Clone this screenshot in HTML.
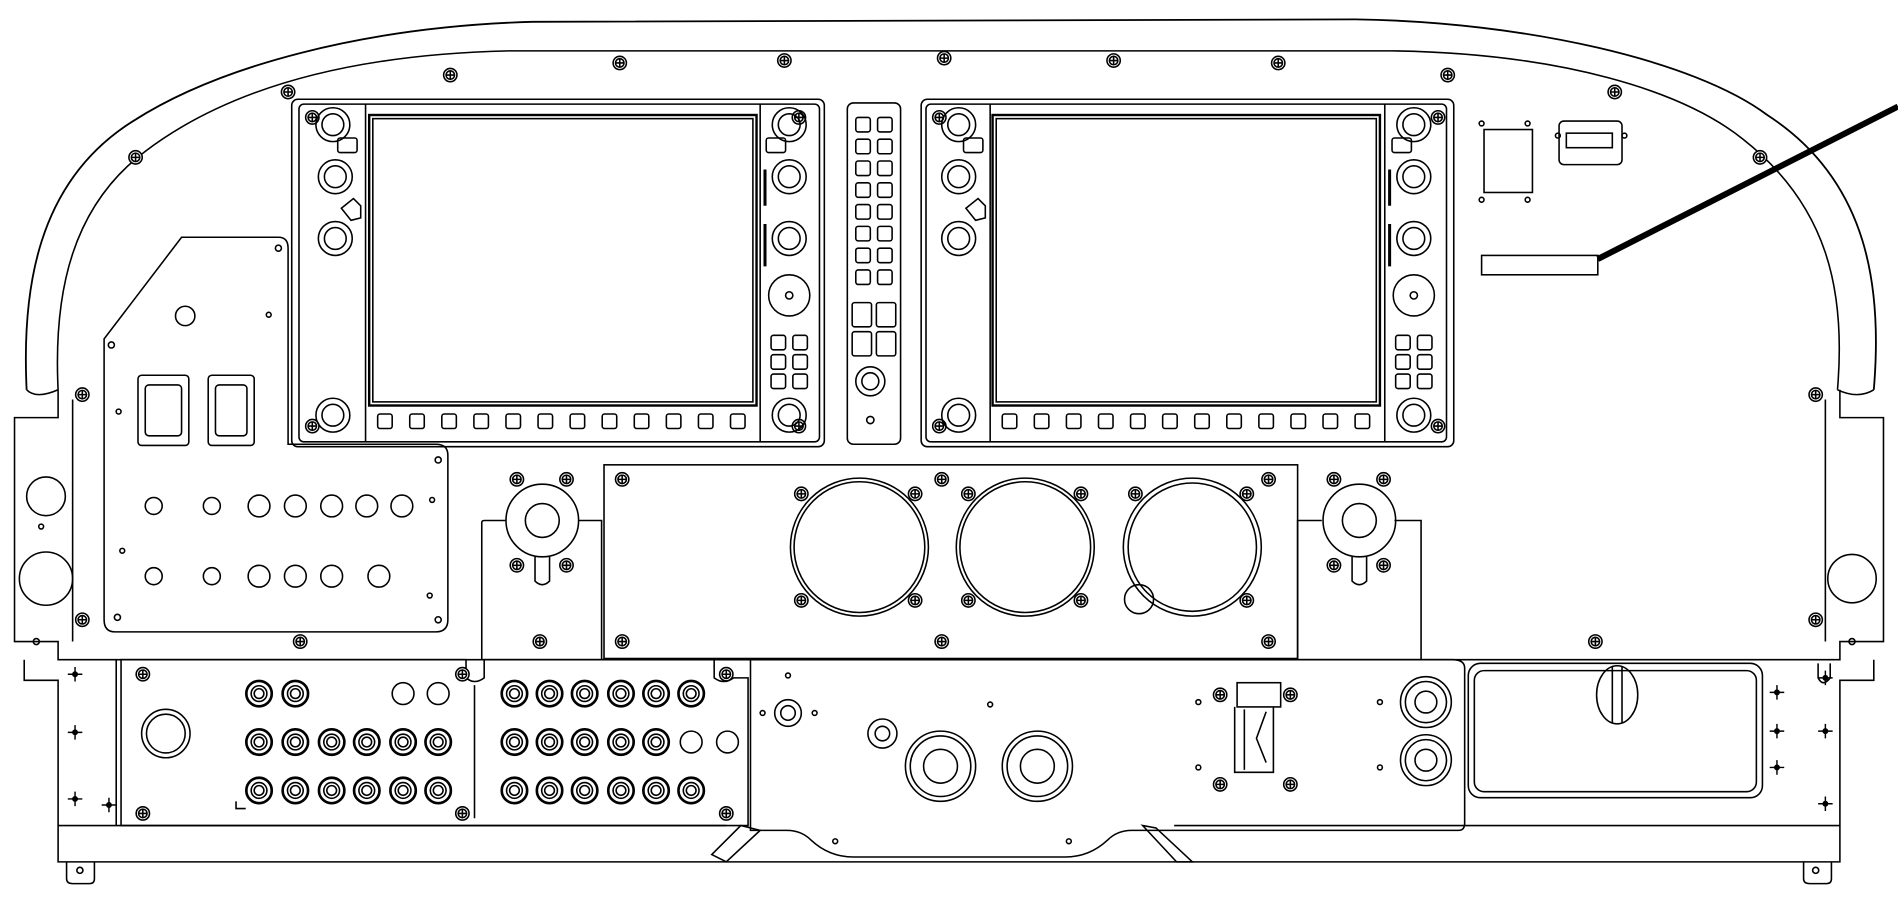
<!DOCTYPE html>
<html><head><meta charset="utf-8"><style>html,body{margin:0;padding:0;background:#fff}svg{display:block}</style></head>
<body>
<svg width="1898" height="900" viewBox="0 0 1568 743.5" xmlns="http://www.w3.org/2000/svg" fill="none" stroke="#000" stroke-width="1.3">
<defs>
<g id="sc"><circle r="5.5" fill="#fff"/><circle r="3.5"/><path d="M-3.5 0H3.5M0-3.5V3.5"/></g>
<g id="pl"><path d="M-6 0H6M0-6V6" stroke-width="1.2"/><circle r="1.8" fill="#000"/></g>
<g id="kn"><circle r="10.5" stroke-width="2.2"/><circle r="6.5"/><circle r="4"/></g>
<g id="bt"><rect x="-6" y="-6" width="12" height="12" rx="2"/></g>
<g id="dk"><circle r="14"/><circle r="9"/></g>
</defs>

<!-- glareshield -->
<path d="M22 322 C18 240 30 150 110 100 C180 55 300 22 440 18 L1120 16 C1260 18 1400 50 1460 95 C1545 150 1555 240 1548 322" stroke-width="1.5"/>
<path d="M48 322 C44 240 60 170 120 125 C190 72 290 45 420 42 L1150 42 C1290 44 1390 75 1440 115 C1510 170 1525 240 1518 322"/>
<path d="M22 322 Q30 330 48 322 M1518 322 Q1535 330 1548 322"/>

<!-- main panel outline -->
<path d="M48 322 L48 345 L12 345 L12 530 L48 530 L48 545 L1520 545 L1520 530 L1556 530 L1556 345 L1520 345 L1520 322"/>
<path d="M60 330 V530 M1508 330 V530"/>
<circle cx="38" cy="410" r="16"/><circle cx="38" cy="478" r="22"/>
<circle cx="1530" cy="478" r="20"/>
<circle cx="34" cy="435" r="2"/><circle cx="30" cy="530" r="2.5"/><circle cx="1530" cy="530" r="2.5"/>

<!-- screws top -->
<use href="#sc" x="372" y="62"/><use href="#sc" x="512" y="52"/><use href="#sc" x="648" y="50"/><use href="#sc" x="780" y="48"/><use href="#sc" x="920" y="50"/><use href="#sc" x="1056" y="52"/><use href="#sc" x="1196" y="62"/>
<use href="#sc" x="238" y="76"/><use href="#sc" x="1334" y="76"/><use href="#sc" x="112" y="130"/><use href="#sc" x="1454" y="130"/>
<use href="#sc" x="68" y="326"/><use href="#sc" x="1500" y="326"/><use href="#sc" x="68" y="512"/><use href="#sc" x="1500" y="512"/>
<use href="#sc" x="248" y="530"/><use href="#sc" x="446" y="530"/><use href="#sc" x="1318" y="530"/>

<!-- left subpanel -->
<path d="M150 196 L230 196 Q238 196 238 205 L238 367 L360 367 Q370 367 370 376 L370 512 Q370 522 360 522 L95 522 Q86 522 86 512 L86 280 L150 196 Z"/>
<circle cx="153" cy="261" r="8"/><circle cx="222" cy="260" r="2"/><circle cx="230" cy="205" r="2.5"/><circle cx="92" cy="285" r="2.5"/><circle cx="98" cy="340" r="2"/>
<rect x="114" y="310" width="42" height="58" rx="3"/><rect x="120" y="318" width="30" height="42" rx="3"/>
<rect x="172" y="310" width="38" height="58" rx="3"/><rect x="178" y="318" width="26" height="42" rx="3"/>
<circle cx="127" cy="418" r="7"/><circle cx="175" cy="418" r="7"/><circle cx="214" cy="418" r="9"/><circle cx="244" cy="418" r="9"/><circle cx="274" cy="418" r="9"/><circle cx="303" cy="418" r="9"/><circle cx="332" cy="418" r="9"/>
<circle cx="127" cy="476" r="7"/><circle cx="175" cy="476" r="7"/><circle cx="214" cy="476" r="9"/><circle cx="244" cy="476" r="9"/><circle cx="274" cy="476" r="9"/><circle cx="313" cy="476" r="9"/>
<circle cx="357" cy="413" r="2"/><circle cx="355" cy="492" r="2"/><circle cx="101" cy="455" r="2"/><circle cx="97" cy="510" r="2.5"/><circle cx="362" cy="380" r="2.5"/><circle cx="362" cy="512" r="2.5"/>

<!-- left display -->
<rect x="241" y="82" width="440" height="287" rx="5"/>
<rect x="247" y="86" width="430" height="279" rx="4"/>
<path d="M302 86 V365 M628 86 V365"/>
<rect x="305" y="95" width="320" height="240" stroke-width="2"/><rect x="308" y="98" width="314" height="234"/>
<use href="#sc" x="258" y="97"/><use href="#sc" x="660" y="97"/><use href="#sc" x="258" y="352"/><use href="#sc" x="660" y="352"/>
<use href="#dk" x="275" y="103"/><use href="#dk" x="652" y="103"/><use href="#dk" x="277" y="146"/><use href="#dk" x="277" y="197"/><use href="#dk" x="652" y="146"/><use href="#dk" x="652" y="197"/><use href="#dk" x="275" y="343"/><use href="#dk" x="652" y="343"/>
<circle cx="652" cy="244" r="17"/><circle cx="652" cy="244" r="3"/>
<rect x="279" y="114" width="16" height="12" rx="2"/><rect x="633" y="114" width="16" height="12" rx="2"/>
<path d="M282 172 L292 164 L298 170 L298 180 L290 182 Z"/>
<path d="M632 140 V170 M632 185 V220" stroke-width="2.5"/>
<g transform="translate(643,283)"><use href="#bt"/><use href="#bt" x="18"/><use href="#bt" y="16"/><use href="#bt" x="18" y="16"/><use href="#bt" y="32"/><use href="#bt" x="18" y="32"/></g>
<g transform="translate(318,348)"><use href="#bt"/><use href="#bt" x="26.5"/><use href="#bt" x="53"/><use href="#bt" x="79.5"/><use href="#bt" x="106"/><use href="#bt" x="132.5"/><use href="#bt" x="159"/><use href="#bt" x="185.5"/><use href="#bt" x="212"/><use href="#bt" x="238.5"/><use href="#bt" x="265"/><use href="#bt" x="291.5"/></g>

<!-- center strip -->
<rect x="700" y="85" width="44" height="282" rx="5"/>
<g transform="translate(713,103)"><use href="#bt"/><use href="#bt" x="18"/><use href="#bt" y="18"/><use href="#bt" x="18" y="18"/><use href="#bt" y="36"/><use href="#bt" x="18" y="36"/><use href="#bt" y="54"/><use href="#bt" x="18" y="54"/><use href="#bt" y="72"/><use href="#bt" x="18" y="72"/><use href="#bt" y="90"/><use href="#bt" x="18" y="90"/><use href="#bt" y="108"/><use href="#bt" x="18" y="108"/><use href="#bt" y="126"/><use href="#bt" x="18" y="126"/></g>
<rect x="704" y="250" width="16" height="20" rx="2"/><rect x="724" y="250" width="16" height="20" rx="2"/><rect x="704" y="274" width="16" height="20" rx="2"/><rect x="724" y="274" width="16" height="20" rx="2"/>
<circle cx="719" cy="315" r="12"/><circle cx="719" cy="315" r="7"/><circle cx="719" cy="347" r="3"/>

<!-- right display -->
<rect x="765" y="82" width="440" height="287" rx="5" transform="translate(-4,0)"/>
<rect x="765" y="86" width="430" height="279" rx="4"/>
<path d="M818 86 V365 M1144 86 V365"/>
<rect x="820" y="95" width="320" height="240" stroke-width="2"/><rect x="823" y="98" width="314" height="234"/>
<use href="#sc" x="776" y="97"/><use href="#sc" x="1188" y="97"/><use href="#sc" x="776" y="352"/><use href="#sc" x="1188" y="352"/>
<use href="#dk" x="792" y="103"/><use href="#dk" x="1168" y="103"/><use href="#dk" x="792" y="146"/><use href="#dk" x="792" y="197"/><use href="#dk" x="1168" y="146"/><use href="#dk" x="1168" y="197"/><use href="#dk" x="792" y="343"/><use href="#dk" x="1168" y="343"/>
<circle cx="1168" cy="244" r="17"/><circle cx="1168" cy="244" r="3"/>
<rect x="796" y="114" width="16" height="12" rx="2"/><rect x="1150" y="114" width="16" height="12" rx="2"/>
<path d="M798 172 L808 164 L814 170 L814 180 L806 182 Z"/>
<path d="M1148 140 V170 M1148 185 V220" stroke-width="2.5"/>
<g transform="translate(1159,283)"><use href="#bt"/><use href="#bt" x="18"/><use href="#bt" y="16"/><use href="#bt" x="18" y="16"/><use href="#bt" y="32"/><use href="#bt" x="18" y="32"/></g>
<g transform="translate(834,348)"><use href="#bt"/><use href="#bt" x="26.5"/><use href="#bt" x="53"/><use href="#bt" x="79.5"/><use href="#bt" x="106"/><use href="#bt" x="132.5"/><use href="#bt" x="159"/><use href="#bt" x="185.5"/><use href="#bt" x="212"/><use href="#bt" x="238.5"/><use href="#bt" x="265"/><use href="#bt" x="291.5"/></g>

<!-- top right items -->
<rect x="1226" y="107" width="40" height="52"/><rect x="1288" y="100" width="52" height="36" rx="4"/><rect x="1294" y="110" width="38" height="12"/>
<circle cx="1224" cy="102" r="2"/><circle cx="1262" cy="102" r="2"/><circle cx="1224" cy="165" r="2"/><circle cx="1262" cy="165" r="2"/><circle cx="1287" cy="112" r="2"/><circle cx="1342" cy="112" r="2"/>
<rect x="1224" y="211" width="96" height="16"/>
<path d="M1320 214 L1568 88" stroke-width="5"/>

<!-- center instrument panel -->
<path d="M398 545 V432 Q398 430 400 430 H418 M478 430 H497 V545 M1072 545 V430 H1092 M1152 430 H1174 V545"/>
<rect x="499" y="384" width="573" height="160"/>
<use href="#sc" x="514" y="396"/><use href="#sc" x="778" y="396"/><use href="#sc" x="1048" y="396"/><use href="#sc" x="514" y="530"/><use href="#sc" x="778" y="530"/><use href="#sc" x="1048" y="530"/>
<circle cx="710" cy="452" r="57"/><circle cx="710" cy="452" r="54"/>
<circle cx="847" cy="452" r="57"/><circle cx="847" cy="452" r="54"/>
<circle cx="985" cy="452" r="57"/><circle cx="985" cy="452" r="53"/>
<circle cx="941" cy="495" r="12"/>
<use href="#sc" x="662" y="408"/><use href="#sc" x="756" y="408"/><use href="#sc" x="662" y="496"/><use href="#sc" x="756" y="496"/>
<use href="#sc" x="800" y="408"/><use href="#sc" x="893" y="408"/><use href="#sc" x="800" y="496"/><use href="#sc" x="893" y="496"/>
<use href="#sc" x="938" y="408"/><use href="#sc" x="1030" y="408"/><use href="#sc" x="1030" y="496"/>
<!-- side knobs -->
<circle cx="448" cy="430" r="30"/><circle cx="448" cy="430" r="14"/><path d="M442 460 V480 Q448 486 454 480 V460"/>
<use href="#sc" x="427" y="396"/><use href="#sc" x="468" y="396"/><use href="#sc" x="427" y="467"/><use href="#sc" x="468" y="467"/>
<circle cx="1123" cy="430" r="30"/><circle cx="1123" cy="430" r="14"/><path d="M1117 460 V480 Q1123 486 1129 480 V460"/>
<use href="#sc" x="1102" y="396"/><use href="#sc" x="1143" y="396"/><use href="#sc" x="1102" y="467"/><use href="#sc" x="1143" y="467"/>

<!-- lower section -->
<path d="M20 545 V562 H48 V712 H1520 V562 H1548 V545"/>
<path d="M48 682 H600 M970 682 H1520"/>
<path d="M55 712 V726 Q55 730 60 730 H74 Q78 730 78 726 V712 M1490 712 V726 Q1490 730 1495 730 H1509 Q1513 730 1513 726 V712"/>
<circle cx="66" cy="719" r="2.5"/><circle cx="1500" cy="719" r="2.5"/>
<path d="M96 545 V682"/>
<use href="#pl" x="62" y="557"/><use href="#pl" x="62" y="605"/><use href="#pl" x="62" y="660"/><use href="#pl" x="90" y="665"/>
<use href="#pl" x="1468" y="572"/><use href="#pl" x="1468" y="604"/><use href="#pl" x="1468" y="634"/><use href="#pl" x="1508" y="560"/><use href="#pl" x="1508" y="604"/><use href="#pl" x="1508" y="664"/>
<!-- left switch panel -->
<path d="M100 545 H385 V560 Q392 566 400 560 V545 H590 V560 Q598 566 606 560 H618 V682 H100 Z"/>
<path d="M392 566 V676"/>
<circle cx="137" cy="606" r="20"/><circle cx="137" cy="606" r="16"/>
<g>
<use href="#kn" x="214" y="573"/><use href="#kn" x="244" y="573"/><circle cx="333" cy="573" r="9"/><circle cx="362" cy="573" r="9"/>
<use href="#kn" x="425" y="573"/><use href="#kn" x="454" y="573"/><use href="#kn" x="483" y="573"/><use href="#kn" x="513" y="573"/><use href="#kn" x="542" y="573"/><use href="#kn" x="571" y="573"/>
<use href="#kn" x="214" y="613"/><use href="#kn" x="244" y="613"/><use href="#kn" x="274" y="613"/><use href="#kn" x="303" y="613"/><use href="#kn" x="333" y="613"/><use href="#kn" x="362" y="613"/>
<use href="#kn" x="425" y="613"/><use href="#kn" x="454" y="613"/><use href="#kn" x="483" y="613"/><use href="#kn" x="513" y="613"/><use href="#kn" x="542" y="613"/><circle cx="571" cy="613" r="9"/><circle cx="601" cy="613" r="9"/>
<use href="#kn" x="214" y="653"/><use href="#kn" x="244" y="653"/><use href="#kn" x="274" y="653"/><use href="#kn" x="303" y="653"/><use href="#kn" x="333" y="653"/><use href="#kn" x="362" y="653"/>
<use href="#kn" x="425" y="653"/><use href="#kn" x="454" y="653"/><use href="#kn" x="483" y="653"/><use href="#kn" x="513" y="653"/><use href="#kn" x="542" y="653"/><use href="#kn" x="571" y="653"/>
</g>
<use href="#sc" x="118" y="557"/><use href="#sc" x="382" y="557"/><use href="#sc" x="600" y="557"/><use href="#sc" x="118" y="672"/><use href="#sc" x="382" y="672"/><use href="#sc" x="600" y="672"/>
<path d="M195 662 V668 H203"/>
<!-- center lower panel -->
<path d="M620 545 V686 H650 Q662 686 670 694 Q685 708 705 708 H880 Q900 708 915 694 Q923 686 935 686 H1205 Q1210 686 1210 680 V552 Q1210 545 1200 545 Z"/>
<path d="M612 682 L628 686 L600 712 L588 706 Z M944 682 L955 684 L985 712 L972 712 Z"/>
<circle cx="651" cy="589" r="11"/><circle cx="651" cy="589" r="6"/><circle cx="630" cy="589" r="2"/><circle cx="673" cy="589" r="2"/><circle cx="651" cy="558" r="2"/>
<circle cx="729" cy="606" r="12"/><circle cx="729" cy="606" r="6"/>
<circle cx="777" cy="633" r="29"/><circle cx="777" cy="633" r="25"/><circle cx="777" cy="633" r="14"/>
<circle cx="857" cy="633" r="29"/><circle cx="857" cy="633" r="25"/><circle cx="857" cy="633" r="14"/>
<circle cx="818" cy="582" r="2"/><circle cx="690" cy="695" r="2"/><circle cx="883" cy="695" r="2"/>
<rect x="1022" y="564" width="36" height="20"/><path d="M1020 584 V638 H1052 V584 M1028 586 V636 M1046 588 L1038 610 L1046 630" />
<use href="#sc" x="1008" y="574"/><use href="#sc" x="1066" y="574"/><use href="#sc" x="1008" y="648"/><use href="#sc" x="1066" y="648"/>
<circle cx="1140" cy="580" r="2"/><circle cx="1140" cy="634" r="2"/><circle cx="990" cy="580" r="2"/><circle cx="990" cy="634" r="2"/>
<circle cx="1178" cy="580" r="21"/><circle cx="1178" cy="580" r="17"/><circle cx="1178" cy="580" r="9"/>
<circle cx="1178" cy="628" r="21"/><circle cx="1178" cy="628" r="17"/><circle cx="1178" cy="628" r="9"/>
<!-- right box -->
<rect x="1213" y="548" width="243" height="111" rx="10"/><rect x="1218" y="554" width="233" height="100" rx="8"/>
<ellipse cx="1336" cy="574" rx="17" ry="24"/><path d="M1332 551 V597 M1340 551 V597"/>
<path d="M1502 548 V560 Q1506 568 1512 560 V548"/>
</svg>
</body></html>
